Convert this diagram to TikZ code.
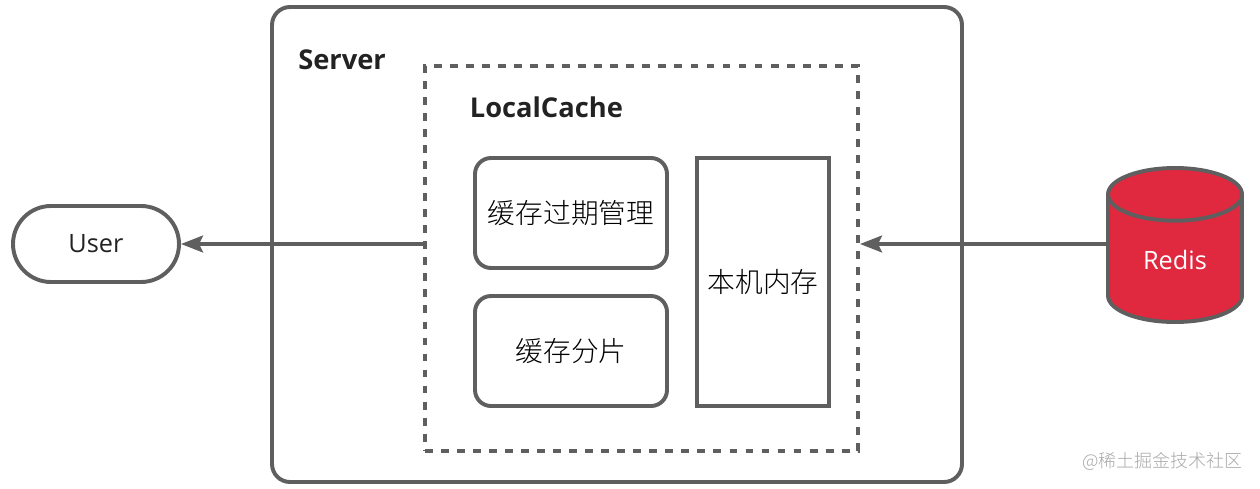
\documentclass[tikz,border=0pt]{standalone}
\usepackage{fontspec}
\setmainfont{Open Sans}
\newfontfamily\cjk{Noto Sans CJK SC Light}
\usetikzlibrary{arrows.meta}
\usetikzlibrary{shapes.geometric}
\definecolor{linegray}{HTML}{5F5F5F}
\definecolor{redisred}{HTML}{E0283F}
\definecolor{titledark}{HTML}{222222}
\definecolor{markgray}{HTML}{A8A8A8}
\tikzset{
  outline/.style = {draw = linegray, line width = 2.8pt},
  cachebox/.style = {outline, rounded corners = 0.4cm, minimum width = 4.8cm, minimum height = 2.75cm, font = \fontsize{19.7}{24}\selectfont\cjk},
  title/.style = {right, inner sep = 0pt, text = titledark, font = \fontsize{19.4}{24}\selectfont\bfseries},
  flow/.style = {draw = linegray, line width = 2.6pt, -{Stealth[length = 0.55cm, width = 0.42cm, inset = 0.1cm]}}
}
\begin{document}
\begin{tikzpicture} [scale = 1]
\useasboundingbox (0.0, 0.0) rectangle (31.5, 12.2);
\node[outline, rounded corners = 0.45cm, minimum width = 17.25cm, minimum height = 11.875cm] (server) at (15.425, 6.0875){};
\node[outline, dash pattern = on 5.6pt off 5.8pt, minimum width = 10.825cm, minimum height = 9.625cm] (localcache) at (16.0375, 5.7375){};
\node[cachebox] (expire) at (14.275, 6.875){缓存过期管理};
\node[cachebox] (shard) at (14.275, 3.425){缓存分片};
\node[outline, minimum width = 3.3cm, minimum height = 6.2cm, font = \fontsize{19.7}{24}\selectfont\cjk] (memory) at (19.075, 5.15){本机内存};
\node[outline, rounded corners = 0.95cm, minimum width = 4.15cm, minimum height = 1.9cm, text = titledark, font = \fontsize{18}{24}\selectfont] (user) at (2.4, 6.1){User};
\node[outline, fill = redisred, text = white, cylinder, shape border rotate = 90, aspect = 0.72, minimum width = 3.35cm, minimum height = 3.85cm, font = \fontsize{18}{24}\selectfont] (redis) at (29.375, 5.6){\raisebox{0.2cm}{Redis}};
\node[title] (servertitle) at (7.45, 10.7){Server};
\node[title] (cachetitle) at (11.74, 9.525){LocalCache};
\node[left, inner sep = 0pt, text = markgray, font = \fontsize{12.8}{16}\selectfont\cjk] (mark) at (31.075, 0.675){@稀土掘金技术社区};
\draw[flow] (localcache.west |- user.east) -- (user.east);
\draw[flow] (redis.west |- user.east) -- (localcache.east |- user.east);
\end{tikzpicture}
\end{document}
